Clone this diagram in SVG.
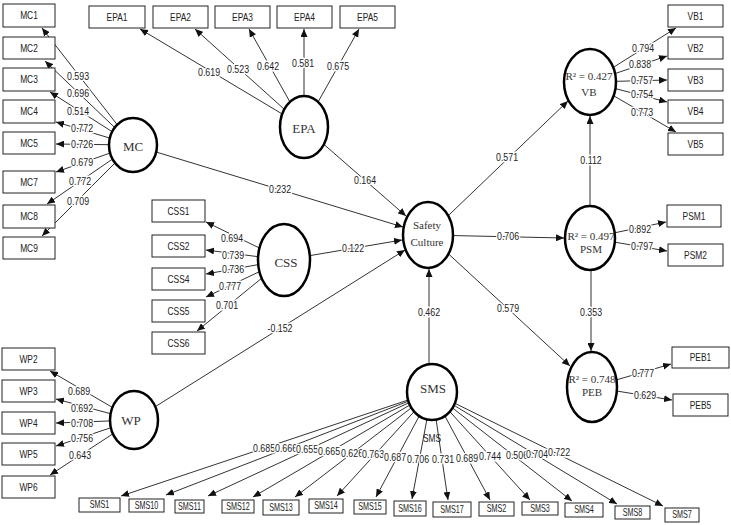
<svg xmlns="http://www.w3.org/2000/svg" width="731" height="525" viewBox="0 0 731 525">
<style>
.box rect{fill:#fff;stroke:#222;stroke-width:1}
.lat ellipse{fill:#fff;stroke:#000;stroke-width:2.5}
text{text-anchor:middle;dominant-baseline:central;font-weight:400}
.bt{font-family:"Liberation Sans",Arial,sans-serif;font-size:10.5px;fill:#222;transform-box:fill-box;transform-origin:center;transform:scaleX(.8)}
.st{font-family:"Liberation Sans",Arial,sans-serif;font-size:10px;fill:#222;transform-box:fill-box;transform-origin:center;transform:scaleX(.72)}
.lt{font-family:"Liberation Serif","Times New Roman",serif;font-size:13px;fill:#333}
.ls{font-family:"Liberation Serif","Times New Roman",serif;font-size:11px;fill:#333}
.n{font-family:"Liberation Sans",Arial,sans-serif;font-size:11px;fill:#222;stroke:#fff;stroke-width:3;paint-order:stroke;stroke-linejoin:round;transform-box:fill-box;transform-origin:center;transform:scaleX(.8)}
#connectors line{stroke:#333;stroke-width:1;marker-end:url(#ah)}
</style>
<defs>
<marker id="ah" viewBox="0 0 8 7" refX="8" refY="3.5" markerWidth="8" markerHeight="7" markerUnits="userSpaceOnUse" orient="auto"><path d="M0,0 L8,3.5 L0,7 z" fill="#111"/></marker>
</defs>
<rect width="731" height="525" fill="#fff"/>
<g id="connectors">
<line x1="133" y1="145" x2="42" y2="28"/>
<line x1="133" y1="145" x2="45" y2="61"/>
<line x1="133" y1="145" x2="50" y2="92"/>
<line x1="133" y1="145" x2="56" y2="122"/>
<line x1="133" y1="145" x2="56" y2="144"/>
<line x1="133" y1="145" x2="56" y2="172"/>
<line x1="133" y1="145" x2="47" y2="204"/>
<line x1="133" y1="145" x2="42" y2="236"/>
<line x1="304" y1="127" x2="140" y2="29"/>
<line x1="304" y1="127" x2="195" y2="29"/>
<line x1="304" y1="127" x2="249" y2="29"/>
<line x1="304" y1="127" x2="304" y2="29"/>
<line x1="304" y1="127" x2="359" y2="29"/>
<line x1="284" y1="260" x2="206" y2="222"/>
<line x1="284" y1="260" x2="206" y2="250"/>
<line x1="284" y1="260" x2="206" y2="274"/>
<line x1="284" y1="260" x2="206" y2="297"/>
<line x1="284" y1="260" x2="197" y2="331"/>
<line x1="134" y1="420" x2="50" y2="371"/>
<line x1="134" y1="420" x2="56" y2="399"/>
<line x1="134" y1="420" x2="56" y2="423"/>
<line x1="134" y1="420" x2="56" y2="446"/>
<line x1="134" y1="420" x2="50" y2="475"/>
<line x1="590" y1="82" x2="676" y2="28"/>
<line x1="590" y1="82" x2="667" y2="56"/>
<line x1="590" y1="82" x2="667" y2="80"/>
<line x1="590" y1="82" x2="667" y2="102"/>
<line x1="590" y1="82" x2="676" y2="132"/>
<line x1="590" y1="238" x2="666" y2="222"/>
<line x1="590" y1="238" x2="667" y2="251"/>
<line x1="592" y1="387" x2="671" y2="364"/>
<line x1="592" y1="387" x2="672" y2="400"/>
<line x1="432" y1="392" x2="121" y2="496"/>
<line x1="432" y1="392" x2="166" y2="495"/>
<line x1="432" y1="392" x2="208" y2="496"/>
<line x1="432" y1="392" x2="253" y2="497"/>
<line x1="432" y1="392" x2="295" y2="497"/>
<line x1="432" y1="392" x2="337" y2="496"/>
<line x1="432" y1="392" x2="376" y2="497"/>
<line x1="432" y1="392" x2="412" y2="499"/>
<line x1="432" y1="392" x2="448" y2="500"/>
<line x1="432" y1="392" x2="490" y2="500"/>
<line x1="432" y1="392" x2="530" y2="500"/>
<line x1="432" y1="392" x2="572" y2="501"/>
<line x1="432" y1="392" x2="617" y2="504"/>
<line x1="432" y1="392" x2="663" y2="506"/>
<line x1="133" y1="145" x2="403" y2="227"/>
<line x1="304" y1="127" x2="406" y2="216"/>
<line x1="284" y1="260" x2="402" y2="240"/>
<line x1="134" y1="420" x2="405" y2="250"/>
<line x1="429" y1="392" x2="429" y2="269"/>
<line x1="428" y1="235" x2="568" y2="101"/>
<line x1="428" y1="235" x2="564" y2="238"/>
<line x1="428" y1="235" x2="570" y2="366"/>
<line x1="590" y1="238" x2="590" y2="116"/>
<line x1="591" y1="238" x2="591" y2="351"/>
</g>
<g id="labels">
<text class="n" x="78" y="76">0.593</text>
<text class="n" x="78" y="93">0.696</text>
<text class="n" x="78" y="111">0.514</text>
<text class="n" x="82" y="128">0.772</text>
<text class="n" x="82" y="144">0.726</text>
<text class="n" x="82" y="162">0.679</text>
<text class="n" x="80" y="181">0.772</text>
<text class="n" x="78" y="201">0.709</text>
<text class="n" x="209" y="72">0.619</text>
<text class="n" x="238" y="69">0.523</text>
<text class="n" x="268" y="66">0.642</text>
<text class="n" x="303" y="63">0.581</text>
<text class="n" x="338" y="66">0.675</text>
<text class="n" x="280" y="189">0.232</text>
<text class="n" x="365" y="180">0.164</text>
<text class="n" x="232" y="238">0.694</text>
<text class="n" x="233" y="255">0.739</text>
<text class="n" x="233" y="269">0.736</text>
<text class="n" x="230" y="286">0.777</text>
<text class="n" x="227" y="305">0.701</text>
<text class="n" x="353" y="248">0.122</text>
<text class="n" x="280" y="328">-0.152</text>
<text class="n" x="79" y="391">0.689</text>
<text class="n" x="82" y="408">0.692</text>
<text class="n" x="82" y="423">0.708</text>
<text class="n" x="82" y="438">0.756</text>
<text class="n" x="80" y="455">0.643</text>
<text class="n" x="264" y="448">0.685</text>
<text class="n" x="286" y="448">0.666</text>
<text class="n" x="307" y="449">0.655</text>
<text class="n" x="329" y="451">0.665</text>
<text class="n" x="352" y="453">0.626</text>
<text class="n" x="373" y="454">0.763</text>
<text class="n" x="395" y="457">0.687</text>
<text class="n" x="418" y="459">0.706</text>
<text class="n" x="443" y="459">0.731</text>
<text class="n" x="467" y="458">0.689</text>
<text class="n" x="490" y="456">0.744</text>
<text class="n" x="517" y="455">0.506</text>
<text class="n" x="537" y="454">0.704</text>
<text class="n" x="559" y="452">0.722</text>
<text class="bt" x="432" y="438">SMS</text>
<text class="n" x="429" y="312">0.462</text>
<text class="n" x="507" y="157">0.571</text>
<text class="n" x="508" y="236">0.706</text>
<text class="n" x="508" y="308">0.579</text>
<text class="n" x="591" y="160">0.112</text>
<text class="n" x="591" y="312">0.353</text>
<text class="n" x="643" y="48">0.794</text>
<text class="n" x="640" y="64">0.838</text>
<text class="n" x="642" y="80">0.757</text>
<text class="n" x="642" y="94">0.754</text>
<text class="n" x="642" y="112">0.773</text>
<text class="n" x="640" y="229">0.892</text>
<text class="n" x="642" y="246">0.797</text>
<text class="n" x="643" y="373">0.777</text>
<text class="n" x="645" y="395">0.629</text>
</g>
<g class="lat">
<g id="MC"><ellipse cx="133" cy="145" rx="24" ry="27"/><text class="lt" x="133" y="146">MC</text></g>
<g id="EPA"><ellipse cx="304" cy="127" rx="24" ry="31"/><text class="lt" x="304" y="128">EPA</text></g>
<g id="CSS"><ellipse cx="284" cy="260" rx="26" ry="36"/><text class="lt" x="286" y="262">CSS</text></g>
<g id="WP"><ellipse cx="134" cy="420" rx="24" ry="29"/><text class="lt" x="131" y="420">WP</text></g>
<g id="SMS"><ellipse cx="432" cy="392" rx="25" ry="28"/><text class="lt" x="433" y="388">SMS</text></g>
<g id="SafetyCulture"><ellipse cx="428" cy="235" rx="25" ry="33"/><text class="ls" x="427" y="225">Safety</text><text class="ls" x="427" y="242">Culture</text></g>
<g id="VB"><ellipse cx="590" cy="82" rx="26" ry="33"/><text class="ls" x="589" y="76">R² = 0.427</text><text class="ls" x="589" y="92">VB</text></g>
<g id="PSM"><ellipse cx="590" cy="238" rx="25" ry="32"/><text class="ls" x="591" y="236">R² = 0.497</text><text class="ls" x="591" y="249">PSM</text></g>
<g id="PEB"><ellipse cx="592" cy="387" rx="25" ry="35"/><text class="ls" x="592" y="379">R² = 0.748</text><text class="ls" x="592" y="392">PEB</text></g>
</g>
<g class="box">
<g id="MC1"><rect x="3" y="4" width="52" height="23"/><text class="bt" x="29" y="15.5">MC1</text></g>
<g id="MC2"><rect x="3" y="37" width="52" height="22"/><text class="bt" x="29" y="48">MC2</text></g>
<g id="MC3"><rect x="3" y="68" width="52" height="23"/><text class="bt" x="29" y="79.5">MC3</text></g>
<g id="MC4"><rect x="3" y="100" width="52" height="23"/><text class="bt" x="29" y="111.5">MC4</text></g>
<g id="MC5"><rect x="3" y="132" width="52" height="22"/><text class="bt" x="29" y="143">MC5</text></g>
<g id="MC7"><rect x="3" y="171" width="52" height="22"/><text class="bt" x="29" y="182">MC7</text></g>
<g id="MC8"><rect x="3" y="205" width="52" height="23"/><text class="bt" x="29" y="216.5">MC8</text></g>
<g id="MC9"><rect x="3" y="237" width="52" height="22"/><text class="bt" x="29" y="248">MC9</text></g>
<g id="EPA1"><rect x="89" y="6" width="56" height="22"/><text class="bt" x="117" y="17">EPA1</text></g>
<g id="EPA2"><rect x="153" y="6" width="55" height="22"/><text class="bt" x="180.5" y="17">EPA2</text></g>
<g id="EPA3"><rect x="215" y="6" width="55" height="22"/><text class="bt" x="242.5" y="17">EPA3</text></g>
<g id="EPA4"><rect x="277" y="6" width="55" height="22"/><text class="bt" x="304.5" y="17">EPA4</text></g>
<g id="EPA5"><rect x="340" y="6" width="55" height="22"/><text class="bt" x="367.5" y="17">EPA5</text></g>
<g id="VB1"><rect x="668" y="5" width="55" height="22"/><text class="bt" x="695.5" y="16">VB1</text></g>
<g id="VB2"><rect x="668" y="37" width="55" height="22"/><text class="bt" x="695.5" y="48">VB2</text></g>
<g id="VB3"><rect x="668" y="69" width="55" height="22"/><text class="bt" x="695.5" y="80">VB3</text></g>
<g id="VB4"><rect x="668" y="100" width="55" height="23"/><text class="bt" x="695.5" y="111.5">VB4</text></g>
<g id="VB5"><rect x="668" y="133" width="55" height="22"/><text class="bt" x="695.5" y="144">VB5</text></g>
<g id="PSM1"><rect x="667" y="205" width="54" height="22"/><text class="bt" x="694" y="216">PSM1</text></g>
<g id="PSM2"><rect x="668" y="244" width="55" height="22"/><text class="bt" x="695.5" y="255">PSM2</text></g>
<g id="PEB1"><rect x="672" y="347" width="57" height="21"/><text class="bt" x="700.5" y="357.5">PEB1</text></g>
<g id="PEB5"><rect x="673" y="394" width="55" height="22"/><text class="bt" x="700.5" y="405">PEB5</text></g>
<g id="CSS1"><rect x="152" y="200" width="53" height="22"/><text class="bt" x="178.5" y="211">CSS1</text></g>
<g id="CSS2"><rect x="152" y="235" width="53" height="22"/><text class="bt" x="178.5" y="246">CSS2</text></g>
<g id="CSS4"><rect x="152" y="268" width="53" height="22"/><text class="bt" x="178.5" y="279">CSS4</text></g>
<g id="CSS5"><rect x="152" y="300" width="53" height="22"/><text class="bt" x="178.5" y="311">CSS5</text></g>
<g id="CSS6"><rect x="152" y="332" width="53" height="22"/><text class="bt" x="178.5" y="343">CSS6</text></g>
<g id="WP2"><rect x="2" y="348" width="53" height="22"/><text class="bt" x="28.5" y="359">WP2</text></g>
<g id="WP3"><rect x="2" y="380" width="53" height="22"/><text class="bt" x="28.5" y="391">WP3</text></g>
<g id="WP4"><rect x="2" y="412" width="53" height="22"/><text class="bt" x="28.5" y="423">WP4</text></g>
<g id="WP5"><rect x="2" y="443" width="53" height="22"/><text class="bt" x="28.5" y="454">WP5</text></g>
<g id="WP6"><rect x="2" y="476" width="53" height="22"/><text class="bt" x="28.5" y="487">WP6</text></g>
<g id="SMS1"><rect x="79" y="498" width="41" height="14"/><text class="st" x="99.5" y="505">SMS1</text></g>
<g id="SMS10"><rect x="129" y="499" width="35" height="13"/><text class="st" x="146.5" y="505.5">SMS10</text></g>
<g id="SMS11"><rect x="175" y="500" width="29" height="13"/><text class="st" x="189.5" y="506.5">SMS11</text></g>
<g id="SMS12"><rect x="222" y="500" width="32" height="13"/><text class="st" x="238" y="506.5">SMS12</text></g>
<g id="SMS13"><rect x="263" y="500" width="36" height="15"/><text class="st" x="281" y="507.5">SMS13</text></g>
<g id="SMS14"><rect x="309" y="499" width="34" height="14"/><text class="st" x="326" y="506">SMS14</text></g>
<g id="SMS15"><rect x="354" y="500" width="32" height="14"/><text class="st" x="370" y="507">SMS15</text></g>
<g id="SMS16"><rect x="394" y="501" width="32" height="15"/><text class="st" x="410" y="508.5">SMS16</text></g>
<g id="SMS17"><rect x="433" y="502" width="38" height="15"/><text class="st" x="452" y="509.5">SMS17</text></g>
<g id="SMS2"><rect x="479" y="502" width="35" height="14"/><text class="st" x="496.5" y="509">SMS2</text></g>
<g id="SMS3"><rect x="522" y="502" width="36" height="13"/><text class="st" x="540" y="508.5">SMS3</text></g>
<g id="SMS4"><rect x="565" y="503" width="38" height="14"/><text class="st" x="584" y="510">SMS4</text></g>
<g id="SMS8"><rect x="615" y="506" width="35" height="13"/><text class="st" x="632.5" y="512.5">SMS8</text></g>
<g id="SMS7"><rect x="665" y="508" width="34" height="14"/><text class="st" x="682" y="515">SMS7</text></g>
</g>
</svg>
